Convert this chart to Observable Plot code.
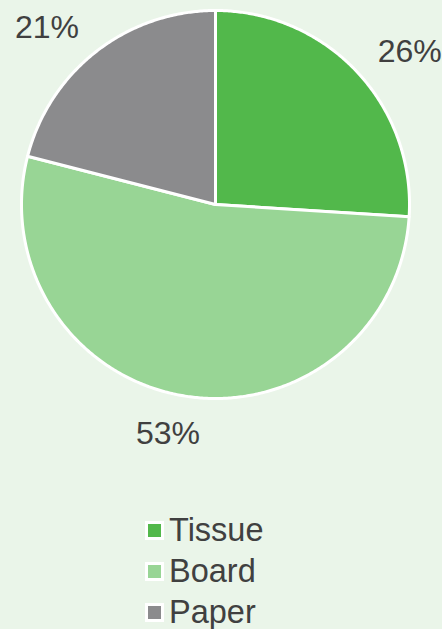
<!DOCTYPE html>
<html>
<head>
<meta charset="utf-8">
<script src="https://cdn.jsdelivr.net/npm/d3@7"></script>
<script src="https://cdn.jsdelivr.net/npm/@observablehq/plot@0.6"></script>
<style>
  html, body { margin: 0; padding: 0; background: #eaf5e9; }
  body { width: 442px; height: 629px; overflow: hidden; font-family: "Liberation Sans", Arial, sans-serif; }
  #legend { padding-top: 10px; padding-left: 145px; }
  .row { height: 41px; display: flex; align-items: center; }
  .sw { width: 13px; height: 13px; border: 3px solid #fff; margin-right: 5px; }
  .lab { font-size: 32.5px; color: #404040; line-height: 41px; }
</style>
</head>
<body>
<div id="chart"></div>
<div id="legend"></div>
<script>
const categories = ["Tissue", "Board", "Paper"];
const values = [26, 53, 21];
const labels = ["26%", "53%", "21%"];
const colors = ["#52b84b", "#98d595", "#8b8b8d"];

const total = d3.sum(values);
// slice outlines (angle clockwise from 12 o'clock)
const pts = [];
const labelPts = [];
let acc = 0;
categories.forEach((c, i) => {
  const a0 = acc / total * 2 * Math.PI;
  acc += values[i];
  const a1 = acc / total * 2 * Math.PI;
  pts.push({cat: c, x: 0, y: 0});
  const n = Math.max(2, Math.ceil((a1 - a0) / (Math.PI / 360)));
  for (let k = 0; k <= n; k++) {
    const a = a0 + (a1 - a0) * k / n;
    pts.push({cat: c, x: Math.sin(a), y: Math.cos(a)});
  }
  pts.push({cat: c, x: 0, y: 0});
  const m = (a0 + a1) / 2;
  const s = Math.sin(m), co = Math.cos(m);
  labelPts.push({
    label: labels[i],
    x: 1.14 * s + Math.sign(s) * Math.min(1, Math.abs(s) * 2.5) * 0.17,
    y: 1.12 * co + co * 0.057 - 0.02
  });
});

const plot = Plot.plot({
  width: 442,
  height: 500,
  margin: 0,
  style: {background: "transparent", fontFamily: "'Liberation Sans', Arial, sans-serif"},
  x: {domain: [-1, 1], range: [21, 409], axis: null},
  y: {domain: [-1, 1], range: [398, 10], axis: null},
  color: {domain: categories, range: colors},
  marks: [
    Plot.line(pts, {x: "x", y: "y", z: "cat", fill: "cat", stroke: "#ffffff", strokeWidth: 3, strokeLinejoin: "round"}),
    Plot.text(labelPts, {x: "x", y: "y", text: "label", fontSize: 32, fill: "#404040"})
  ]
});
document.getElementById("chart").appendChild(plot);

const legend = document.getElementById("legend");
categories.forEach((c, i) => {
  const row = document.createElement("div");
  row.className = "row";
  const sw = document.createElement("div");
  sw.className = "sw";
  sw.style.background = colors[i];
  const lab = document.createElement("span");
  lab.className = "lab";
  lab.textContent = c;
  row.appendChild(sw);
  row.appendChild(lab);
  legend.appendChild(row);
});
</script>
</body>
</html>
